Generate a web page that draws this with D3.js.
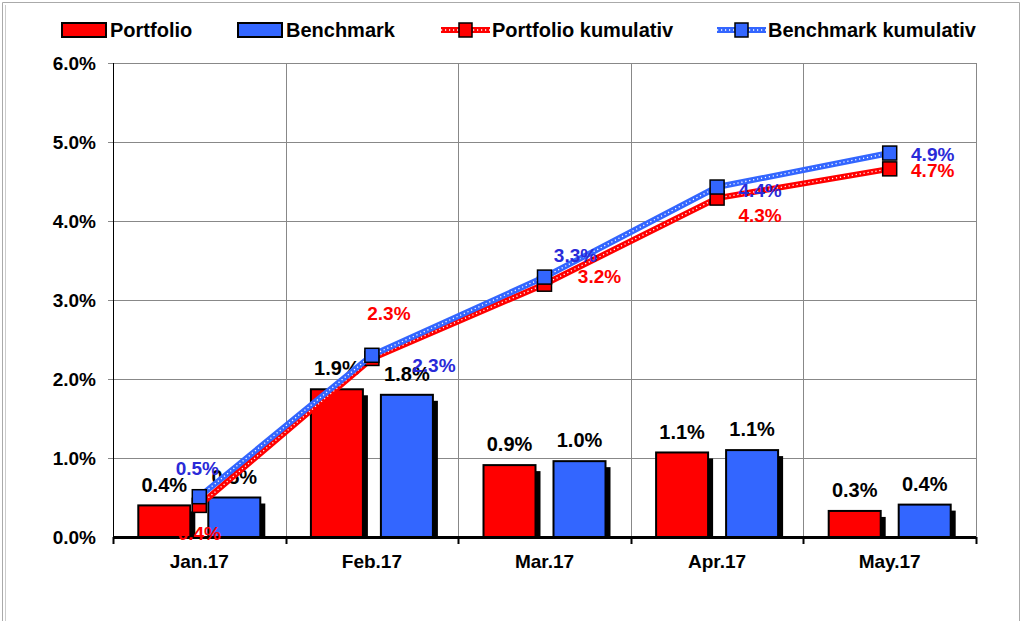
<!DOCTYPE html>
<html>
<head>
<meta charset="utf-8">
<script src="https://cdn.jsdelivr.net/npm/d3@7"></script>
<style>
  body { margin: 0; background: #fff; }
  text { font-family: "Liberation Sans", Arial, sans-serif; font-weight: bold; }
</style>
</head>
<body>
<div id="chart"></div>
<script>
const months = ["Jan.17", "Feb.17", "Mar.17", "Apr.17", "May.17"];
const portfolio = [0.40, 1.87, 0.91, 1.07, 0.33];
const benchmark = [0.50, 1.80, 0.96, 1.10, 0.41];
const portfolioCum = [0.40, 2.26, 3.20, 4.29, 4.66];
const benchmarkCum = [0.51, 2.30, 3.29, 4.43, 4.86];
const portfolioLabels = ["0.4%", "1.9%", "0.9%", "1.1%", "0.3%"];
const benchmarkLabels = ["0.5%", "1.8%", "1.0%", "1.1%", "0.4%"];
const portfolioCumLabels = ["0.4%", "2.3%", "3.2%", "4.3%", "4.7%"];
const benchmarkCumLabels = ["0.5%", "2.3%", "3.3%", "4.4%", "4.9%"];
const yTicks = [0, 1, 2, 3, 4, 5, 6];

let width = 1024,
    height = 621,
    margin = ({ top: 63, right: 48, bottom: 84, left: 113 });

const RED = "#ff0000", BLUE = "#3366ff";

const svg = d3.select("#chart")
  .append("svg")
  .attr("width", width)
  .attr("height", height);

// outer frame
svg.append("path")
  .attr("d", "M2.5,621 V2.5 H1019.5 V621")
  .attr("fill", "none").attr("stroke", "#aaa").attr("stroke-width", 1);
svg.append("line").attr("x1", 5.5).attr("x2", 5.5).attr("y1", 5).attr("y2", 621)
  .attr("stroke", "#ccc");

let x = d3.scaleBand()
  .domain(months)
  .range([margin.left, width - margin.right]);

let y = d3.scaleLinear()
  .domain([0, 6])
  .range([height - margin.bottom, margin.top]);

// gridlines
svg.append("g")
  .selectAll("line")
  .data(yTicks.slice(1))
  .join("line")
  .attr("x1", margin.left - 5).attr("x2", width - margin.right)
  .attr("y1", d => y(d) + 0.5).attr("y2", d => y(d) + 0.5)
  .attr("stroke", "#888");

let bounds = months.map(m => x(m)).concat([x.range()[1]]);
svg.append("g")
  .selectAll("line")
  .data(bounds.slice(1))
  .join("line")
  .attr("x1", d => Math.round(d) + 0.5).attr("x2", d => Math.round(d) + 0.5)
  .attr("y1", y(6)).attr("y2", y(0) + 6)
  .attr("stroke", "#888");

// y axis
svg.append("line")
  .attr("x1", margin.left + 0.5).attr("x2", margin.left + 0.5)
  .attr("y1", y(6)).attr("y2", y(0))
  .attr("stroke", "#000");
svg.append("g")
  .selectAll("text")
  .data(yTicks)
  .join("text")
  .attr("x", margin.left - 17)
  .attr("y", d => y(d))
  .attr("dy", "0.36em")
  .attr("text-anchor", "end")
  .attr("font-size", 19)
  .text(d => d.toFixed(1) + "%");

// bars
let barW = 52, off = 35;
function bars(values, color, sign) {
  let g = svg.append("g");
  values.forEach((v, i) => {
    let cx = x(months[i]) + x.bandwidth() / 2 + sign * off;
    // shadow
    g.append("rect")
      .attr("x", cx - barW / 2 + 5).attr("y", y(v) + 6)
      .attr("width", barW).attr("height", y(0) - y(v) - 6)
      .attr("fill", "#000");
    g.append("rect")
      .attr("x", cx - barW / 2).attr("y", y(v))
      .attr("width", barW).attr("height", y(0) - y(v))
      .attr("fill", color).attr("stroke", "#000").attr("stroke-width", 2);
  });
}
bars(portfolio, RED, -1);
bars(benchmark, BLUE, 1);

// x axis
svg.append("line")
  .attr("x1", margin.left).attr("x2", width - margin.right)
  .attr("y1", y(0) + 0.5).attr("y2", y(0) + 0.5)
  .attr("stroke", "#000").attr("stroke-width", 3);
svg.append("g")
  .selectAll("line")
  .data(bounds)
  .join("line")
  .attr("x1", d => Math.round(d) + 0.5).attr("x2", d => Math.round(d) + 0.5)
  .attr("y1", y(0)).attr("y2", y(0) + 7)
  .attr("stroke", "#000").attr("stroke-width", 2);
svg.append("g")
  .selectAll("text")
  .data(months)
  .join("text")
  .attr("x", d => x(d) + x.bandwidth() / 2)
  .attr("y", y(0) + 24)
  .attr("dy", "0.36em")
  .attr("text-anchor", "middle")
  .attr("font-size", 19)
  .text(d => d);

// bar labels
function barLabels(values, labels, sign) {
  svg.append("g")
    .selectAll("text")
    .data(values)
    .join("text")
    .attr("x", (d, i) => x(months[i]) + x.bandwidth() / 2 + sign * off)
    .attr("y", d => y(d) - 21)
    .attr("dy", "0.36em")
    .attr("text-anchor", "middle")
    .attr("font-size", 20)
    .attr("fill", "#000")
    .text((d, i) => labels[i]);
}
barLabels(portfolio, portfolioLabels, -1);
barLabels(benchmark, benchmarkLabels, 1);

// cumulative lines
let line = d3.line()
  .x((d, i) => x(months[i]) + x.bandwidth() / 2)
  .y(d => y(d));

function cumLine(values, color) {
  let g = svg.append("g");
  g.append("path").datum(values)
    .attr("d", line).attr("fill", "none")
    .attr("stroke", color).attr("stroke-width", 6).attr("stroke-linejoin", "round");
  g.append("path").datum(values)
    .attr("d", line).attr("fill", "none")
    .attr("stroke", "#fff").attr("stroke-width", 1.3)
    .attr("stroke-dasharray", "1.2,2.8");
  g.selectAll("rect")
    .data(values)
    .join("rect")
    .attr("x", (d, i) => x(months[i]) + x.bandwidth() / 2 - 7)
    .attr("y", d => y(d) - 7)
    .attr("width", 14).attr("height", 14)
    .attr("fill", color).attr("stroke", "#000").attr("stroke-width", 1.5);
}
cumLine(portfolioCum, RED);
cumLine(benchmarkCum, BLUE);

// cumulative labels (offsets chosen by hand to follow the original)
const pOff = [[0, 28], [17, -45], [55, -8], [43, 17], [43, 1]];
const bOff = [[-2, -29], [62, 10], [31, -22], [43, 3], [43, 1]];
function cumLabels(values, labels, offs, color) {
  svg.append("g")
    .selectAll("text")
    .data(values)
    .join("text")
    .attr("x", (d, i) => x(months[i]) + x.bandwidth() / 2 + offs[i][0])
    .attr("y", (d, i) => y(d) + offs[i][1])
    .attr("dy", "0.36em")
    .attr("text-anchor", "middle")
    .attr("font-size", 19)
    .attr("fill", color)
    .text((d, i) => labels[i]);
}
cumLabels(portfolioCum, portfolioCumLabels, pOff, RED);
cumLabels(benchmarkCum, benchmarkCumLabels, bOff, "#2a2ad8");

// legend
const legendItems = [
  { name: "Portfolio", color: RED, type: "bar", x: 62 },
  { name: "Benchmark", color: BLUE, type: "bar", x: 238 },
  { name: "Portfolio kumulativ", color: RED, type: "line", x: 441 },
  { name: "Benchmark kumulativ", color: BLUE, type: "line", x: 717 }
];
let legend = svg.append("g").attr("transform", "translate(0,30)");
legendItems.forEach(it => {
  let g = legend.append("g").attr("transform", `translate(${it.x},0)`);
  if (it.type === "bar") {
    g.append("rect").attr("x", 0).attr("y", -7).attr("width", 44).attr("height", 14)
      .attr("fill", it.color).attr("stroke", "#000").attr("stroke-width", 2);
    g.append("text").attr("x", 48).attr("dy", "0.36em").attr("font-size", 20).text(it.name);
  } else {
    g.append("line").attr("x1", 0).attr("x2", 49).attr("stroke", it.color).attr("stroke-width", 6);
    g.append("line").attr("x1", 0).attr("x2", 49).attr("stroke", "#fff")
      .attr("stroke-width", 1.3).attr("stroke-dasharray", "1.2,2.8");
    g.append("rect").attr("x", 18).attr("y", -7).attr("width", 13).attr("height", 14)
      .attr("fill", it.color).attr("stroke", "#000").attr("stroke-width", 1.5);
    g.append("text").attr("x", 51).attr("dy", "0.36em").attr("font-size", 20).text(it.name);
  }
});
</script>
</body>
</html>
